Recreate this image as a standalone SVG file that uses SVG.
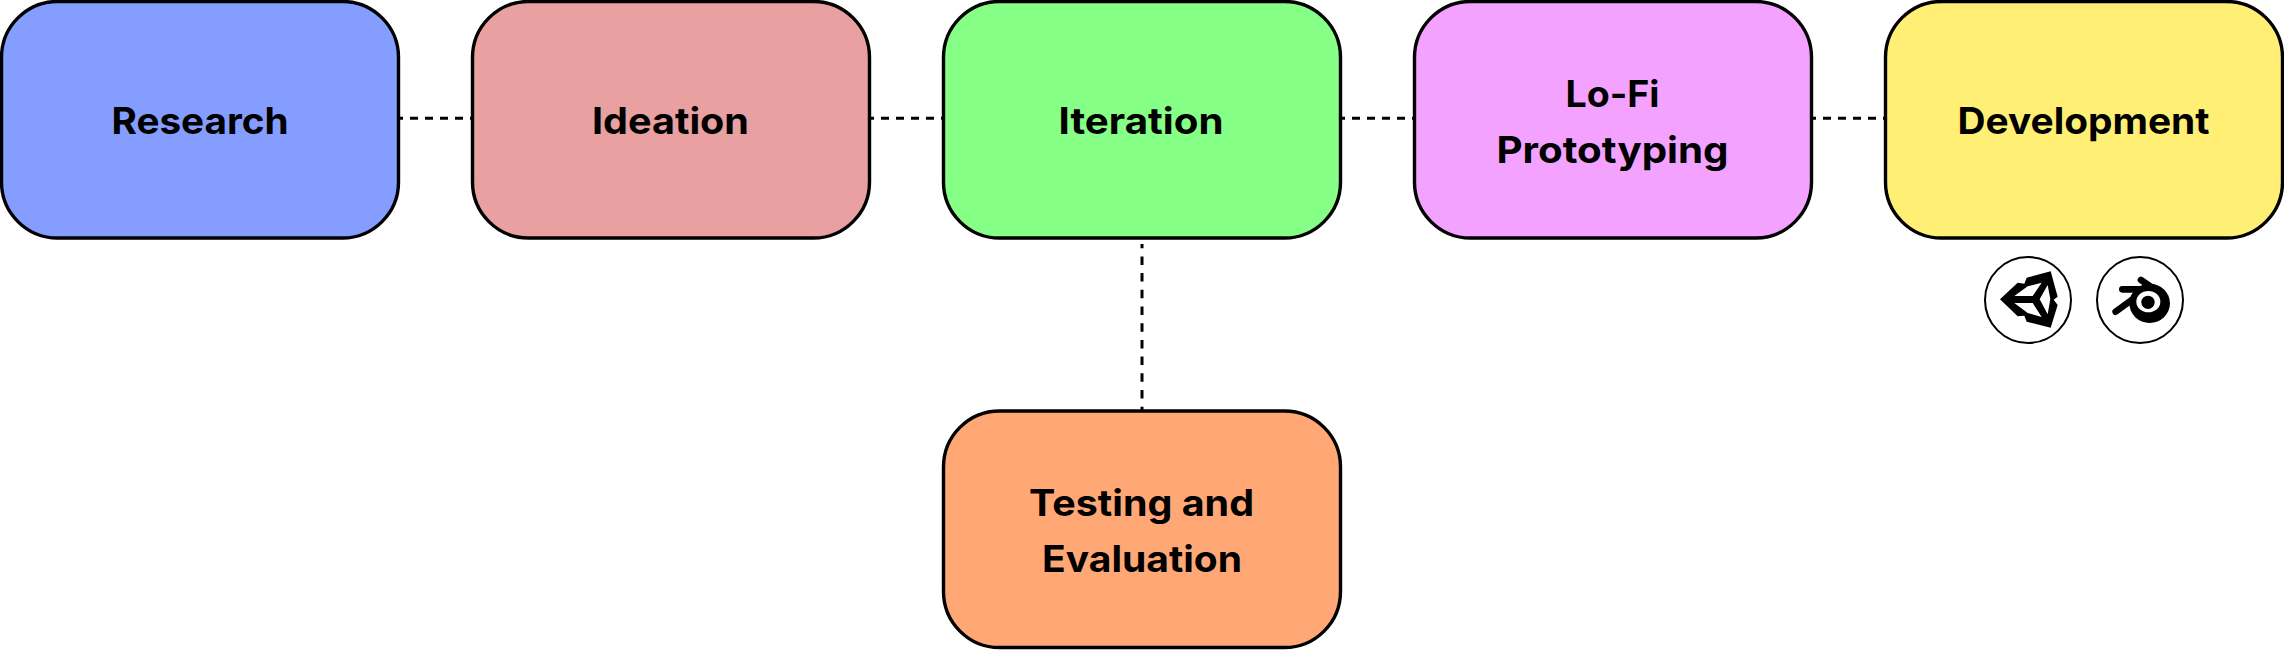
<svg xmlns="http://www.w3.org/2000/svg" width="2284" height="650" viewBox="0 0 2284 650">
<style>
.box{stroke:#000;stroke-width:3.4}
.lbl{font-family:"Inter","Liberation Sans",sans-serif;font-weight:700;font-size:37px;fill:#000}
.conn{fill:none;stroke:#000;stroke-width:3}
.ring{fill:#fff;stroke:#000;stroke-width:2}
</style>
<rect width="2284" height="650" fill="#fff"/>
<g id="connectors">
<line class="conn" x1="395" y1="118.3" x2="476" y2="118.3" stroke-dasharray="8 7"/>
<line class="conn" x1="866" y1="118.3" x2="947" y2="118.3" stroke-dasharray="8 7"/>
<line class="conn" x1="1337" y1="118.3" x2="1418" y2="118.3" stroke-dasharray="8 7"/>
<line class="conn" x1="1808" y1="118.3" x2="1889" y2="118.3" stroke-dasharray="8 7"/>
<line class="conn" x1="1142" y1="244" x2="1142" y2="412" stroke-dasharray="8.5 8.2" stroke-dashoffset="4.3"/>
</g>
<g id="research"><rect class="box" x="1.5" y="1.5" width="397" height="236.5" rx="56" fill="#859dff"/><text class="lbl" x="111.5" y="134" textLength="177" lengthAdjust="spacingAndGlyphs">Research</text></g>
<g id="ideation"><rect class="box" x="472.5" y="1.5" width="397" height="236.5" rx="56" fill="#e8a0a0"/><text class="lbl" x="592" y="134" textLength="157" lengthAdjust="spacingAndGlyphs">Ideation</text></g>
<g id="iteration"><rect class="box" x="943.5" y="1.5" width="397" height="236.5" rx="56" fill="#85ff85"/><text class="lbl" x="1058.5" y="134" textLength="165" lengthAdjust="spacingAndGlyphs">Iteration</text></g>
<g id="lofi"><rect class="box" x="1414.5" y="1.5" width="397" height="236.5" rx="56" fill="#f3a3ff"/><text class="lbl" x="1565.5" y="106.5" textLength="94" lengthAdjust="spacingAndGlyphs">Lo-Fi</text><text class="lbl" x="1496.5" y="162.5" textLength="232" lengthAdjust="spacingAndGlyphs">Prototyping</text></g>
<g id="development"><rect class="box" x="1885.5" y="1.5" width="397" height="236.5" rx="56" fill="#fff075"/><text class="lbl" x="1957.5" y="134" textLength="252" lengthAdjust="spacingAndGlyphs">Development</text></g>
<g id="testing"><rect class="box" x="943.5" y="411" width="397" height="236.5" rx="56" fill="#ffa876"/><text class="lbl" x="1029" y="515.5" textLength="225" lengthAdjust="spacingAndGlyphs">Testing and</text><text class="lbl" x="1042" y="571.5" textLength="200" lengthAdjust="spacingAndGlyphs">Evaluation</text></g>
<g id="unity-icon">
<circle class="ring" cx="2028" cy="300" r="43"/>
<g transform="translate(1995 265) scale(.33333)">
<path d="M15 103L68 53L88 56L95 38L167 19L188 95L176 104L188 120L167 188L95 170L88 152L68 154Z" fill="#000"/>
<path d="M58 93L98 64L140 53L113 93ZM58 114L113 114L140 156L98 144ZM158 60L166 102L158 148L134 103Z" fill="#fff"/>
</g>
</g>
<g id="blender-icon">
<circle class="ring" cx="2140" cy="300" r="43"/>
<g transform="translate(2105 265) scale(.33333)">
<ellipse cx="134" cy="115" rx="61" ry="59" fill="#000"/>
<path d="M52 73H125M32 140L98 92M108 45L174 90" fill="none" stroke="#000" stroke-width="20" stroke-linecap="round"/>
<ellipse cx="130" cy="110" rx="36" ry="32" fill="#fff"/>
<circle cx="129" cy="112" r="20" fill="#000"/>
</g>
</g>
</svg>
